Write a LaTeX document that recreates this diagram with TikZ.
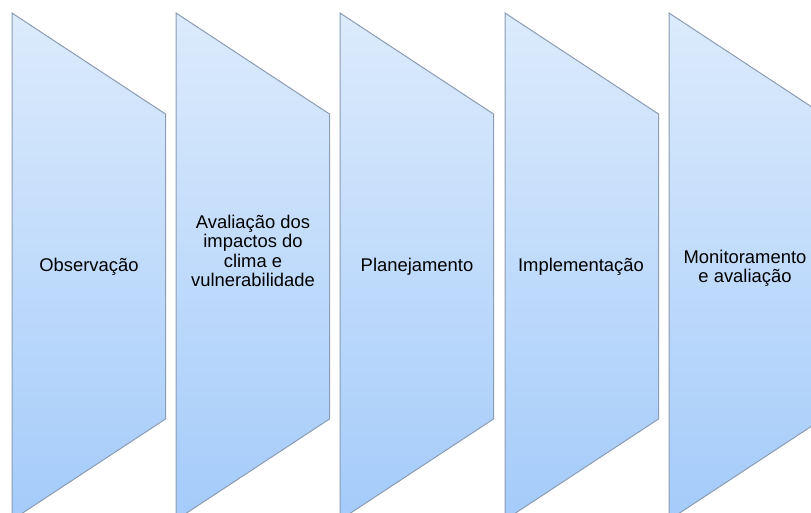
\documentclass[tikz,border=0pt]{standalone}
\usepackage{fontspec}
\setmainfont{Liberation Sans}
\definecolor{hautbleu}{RGB}{220,235,252}
\definecolor{basbleu}{RGB}{164,203,250}
\definecolor{bordure}{RGB}{140,156,178}
\tikzset{
  etape/.style={draw=bordure, line width=0.5pt, top color=hautbleu, bottom color=basbleu},
  texte/.style={align=center, font=\fontsize{9.2}{9.6}\selectfont, inner sep=0pt}
}
\begin{document}
\begin{tikzpicture}[x=0.5pt, y=-0.5pt]
                \useasboundingbox (0,0) rectangle (811,513);
                \clip (0,0) rectangle (811,513);%Cadre coupe
                \draw[etape] (12,13)--(165.5,114)--(165.5,419)--(12,520)--cycle;
                \draw[etape] (176,13)--(329.5,114)--(329.5,419)--(176,520)--cycle;
                \draw[etape] (340,13)--(493.5,114)--(493.5,419)--(340,520)--cycle;
                \draw[etape] (505,13)--(658.5,114)--(658.5,419)--(505,520)--cycle;
                \draw[etape] (669,13)--(822.5,114)--(822.5,419)--(669,520)--cycle;
                \node[texte] (obs) at (89,267) {Observação};
                \node[texte] (aval) at (253,251) {Avaliação dos\\impactos do\\clima e\\vulnerabilidade};
                \node[texte] (plan) at (417,267) {Planejamento};
                \node[texte] (impl) at (581,267) {Implementação};
                \node[texte] (moni) at (745,268) {Monitoramento\\e avaliação};
            \end{tikzpicture}
\end{document}
